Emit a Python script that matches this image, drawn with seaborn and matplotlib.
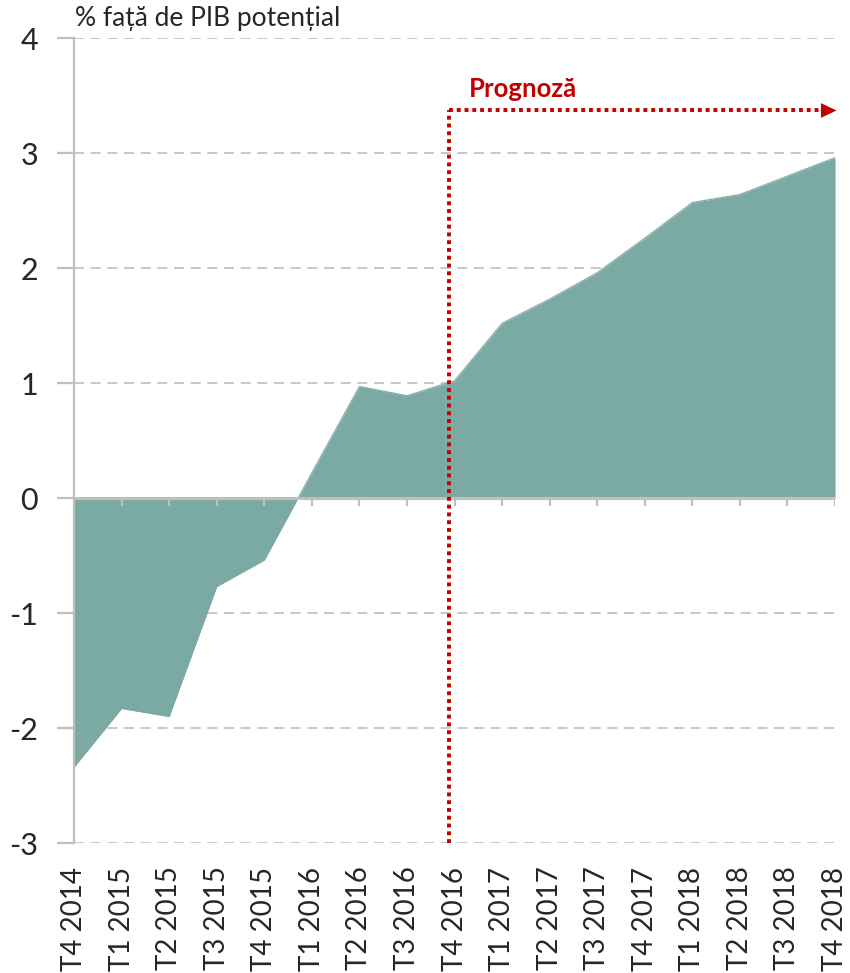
import numpy as np
import pandas as pd
import matplotlib
matplotlib.use("Agg")
import matplotlib.pyplot as plt
import seaborn as sns

quarters = ["T4 2014", "T1 2015", "T2 2015", "T3 2015", "T4 2015",
            "T1 2016", "T2 2016", "T3 2016", "T4 2016",
            "T1 2017", "T2 2017", "T3 2017", "T4 2017",
            "T1 2018", "T2 2018", "T3 2018", "T4 2018"]
gap = [-2.34, -1.83, -1.90, -0.77, -0.54,
       0.22, 0.97, 0.89, 1.02,
       1.52, 1.73, 1.96, 2.26,
       2.57, 2.64, 2.80, 2.96]
forecast_start = 7.89
forecast_level = 3.37
y_ticks = [-3, -2, -1, 0, 1, 2, 3, 4]

df = pd.DataFrame({"quarter": quarters, "gap": gap})
df["pos"] = np.arange(len(df))

sns.set_theme(style="white")
plt.rcParams["font.family"] = ["Lato", "DejaVu Sans"]

fill_color = "#7BAAA4"
grey = "#BFBFBF"
red = "#C00000"

fig = plt.figure(figsize=(8.5, 9.73), dpi=100)
ax = fig.add_axes([0.0871, 0.1336, 0.8953, 0.8273])

ax.fill_between(df["pos"], df["gap"], 0, color=fill_color, linewidth=0, zorder=2)
sns.lineplot(data=df, x="pos", y="gap", color=fill_color, linewidth=0.8, ax=ax, zorder=2)

# grid
for t in y_ticks:
    if t != 0:
        ax.axhline(t, color=grey, linewidth=1.2, linestyle=(0, (6, 4)), zorder=1)
ax.axhline(0, color=grey, linewidth=2.2, zorder=3)
ax.vlines(df["pos"], -0.07, 0, color=grey, linewidth=1.6, zorder=3)

# forecast marker
ax.plot([forecast_start, forecast_start], [-3, forecast_level], color=red,
        linewidth=2.8, linestyle=(0, (1, 1)), zorder=4, clip_on=False)
ax.plot([forecast_start, 15.75], [forecast_level, forecast_level], color=red,
        linewidth=2.8, linestyle=(0, (1, 1)), zorder=4, clip_on=False)
ax.annotate("", xy=(16.03, forecast_level), xytext=(15.6, forecast_level),
            arrowprops=dict(arrowstyle="-|>,head_length=0.55,head_width=0.26",
                            mutation_scale=20, color=red, lw=0.1,
                            shrinkA=0, shrinkB=0),
            annotation_clip=False, zorder=5)
ax.text(forecast_start + 0.42, forecast_level + 0.08, "Prognoză", color=red,
        fontsize=18.5, fontweight="bold", ha="left", va="bottom")

ax.set_xlim(0, 16)
ax.set_ylim(-3, 4)
ax.set_yticks(y_ticks)
ax.set_yticklabels([str(t) for t in y_ticks], fontsize=22)
ax.set_xticks(df["pos"])
ax.set_xticklabels(df["quarter"], rotation=90, fontsize=20)
ax.tick_params(axis="x", length=0, pad=17)
ax.tick_params(axis="y", left=True, length=12, width=1.6, color=grey, pad=14)
ax.set_xlabel("")
ax.set_ylabel("")

for side in ["top", "right", "bottom"]:
    ax.spines[side].set_visible(False)
ax.spines["left"].set_color(grey)
ax.spines["left"].set_linewidth(1.6)

fig.text(0.088, 0.9815, "% față de PIB potențial", fontsize=19, ha="left", va="center")

fig.savefig("out.png", dpi=100)
